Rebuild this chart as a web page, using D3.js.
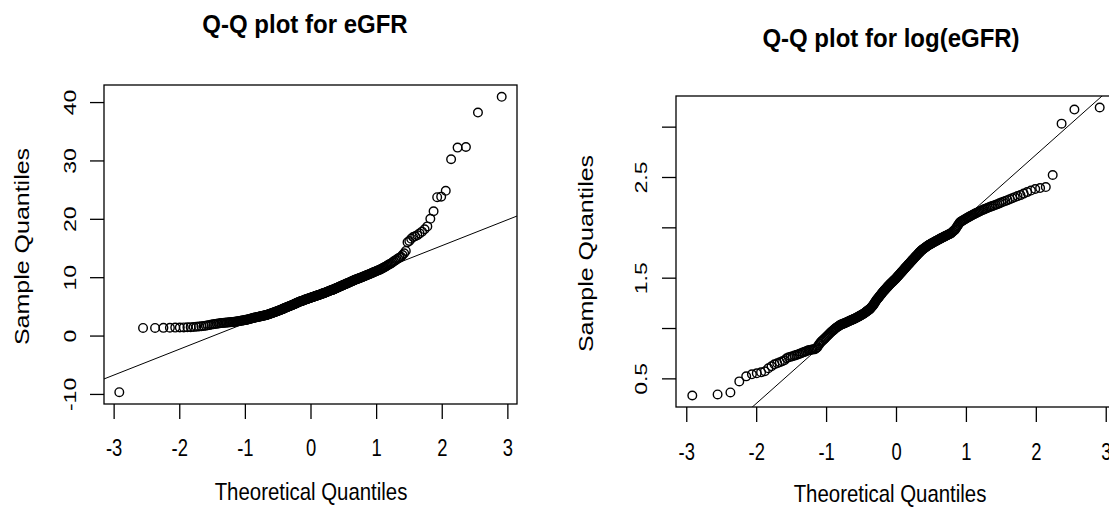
<!DOCTYPE html>
<meta charset="utf-8">
<style>

    body {
        margin: 0;
        background: #fff;
    }

    text {
        font-family: "Liberation Sans", Arial, sans-serif;
        fill: #000;
    }

    .title {
        font-size: 25px;
        font-weight: bold;
        text-anchor: middle;
    }

    .tick text {
        font-size: 23px;
    }

    .lab {
        font-size: 24px;
        text-anchor: middle;
    }

    .pt {
        fill: none;
        stroke: #000;
        stroke-width: 1.4px;
    }

</style>

<svg width="1109" height="521"></svg>
<script src="https://d3js.org/d3.v7.min.js"></script>

<script>
    // sorted sample values (280 points each)
    var eGFR = [
        -9.7, 1.3, 1.3, 1.32, 1.34, 1.36, 1.38, 1.4, 1.42, 1.44,
        1.46, 1.5, 1.55, 1.6, 1.65, 1.7, 1.76, 1.82, 1.88, 1.94,
        2.0, 2.04, 2.08, 2.11, 2.15, 2.17, 2.19, 2.21, 2.23, 2.25,
        2.27, 2.29, 2.31, 2.33, 2.35, 2.38, 2.41, 2.44, 2.47, 2.5,
        2.53, 2.56, 2.59, 2.62, 2.65, 2.69, 2.73, 2.77, 2.81, 2.85,
        2.89, 2.93, 2.97, 3.01, 3.05, 3.08, 3.11, 3.14, 3.17, 3.2,
        3.23, 3.26, 3.29, 3.32, 3.35, 3.38, 3.41, 3.44, 3.47, 3.5,
        3.54, 3.58, 3.62, 3.66, 3.7, 3.74, 3.78, 3.82, 3.86, 3.9,
        3.94, 3.99, 4.03, 4.08, 4.12, 4.17, 4.21, 4.26, 4.3, 4.35,
        4.39, 4.44, 4.48, 4.53, 4.57, 4.62, 4.66, 4.71, 4.75, 4.8,
        4.84, 4.89, 4.93, 4.98, 5.02, 5.07, 5.11, 5.16, 5.2, 5.25,
        5.29, 5.34, 5.38, 5.43, 5.47, 5.52, 5.56, 5.61, 5.65, 5.7,
        5.74, 5.78, 5.82, 5.86, 5.9, 5.94, 5.98, 6.02, 6.06, 6.1,
        6.13, 6.17, 6.2, 6.24, 6.27, 6.31, 6.34, 6.38, 6.41, 6.45,
        6.48, 6.52, 6.55, 6.59, 6.62, 6.66, 6.69, 6.73, 6.76, 6.8,
        6.83, 6.87, 6.9, 6.94, 6.97, 7.01, 7.04, 7.08, 7.11, 7.15,
        7.19, 7.23, 7.27, 7.31, 7.35, 7.39, 7.43, 7.47, 7.51, 7.55,
        7.59, 7.63, 7.67, 7.71, 7.75, 7.79, 7.83, 7.87, 7.91, 7.95,
        8.0, 8.05, 8.1, 8.15, 8.2, 8.25, 8.3, 8.35, 8.4, 8.45,
        8.5, 8.55, 8.6, 8.65, 8.7, 8.75, 8.8, 8.85, 8.9, 8.95,
        9.0, 9.06, 9.11, 9.17, 9.22, 9.28, 9.33, 9.39, 9.44, 9.5,
        9.55, 9.6, 9.65, 9.7, 9.75, 9.8, 9.85, 9.9, 9.95, 10.0,
        10.06, 10.12, 10.18, 10.24, 10.3, 10.36, 10.42, 10.48, 10.54, 10.6,
        10.67, 10.74, 10.81, 10.88, 10.95, 11.02, 11.09, 11.16, 11.23, 11.3,
        11.4, 11.5, 11.6, 11.7, 11.8, 11.92, 12.04, 12.16, 12.28, 12.4,
        12.56, 12.72, 12.88, 13.04, 13.2, 13.35, 13.5, 13.8, 14.1, 14.5,
        16.0, 16.2, 16.6, 16.9, 17.0, 17.2, 17.5, 17.8, 18.2, 18.7,
        20.0, 21.3, 23.7, 23.8, 24.8, 30.2, 32.2, 32.3, 38.2, 40.9
    ];

    var logEGFR = [
        0.33, 0.34, 0.36, 0.47, 0.52, 0.54, 0.55, 0.56, 0.57, 0.6,
        0.62, 0.64, 0.65, 0.66, 0.67, 0.68, 0.7, 0.71, 0.715, 0.72,
        0.726, 0.732, 0.738, 0.744, 0.75, 0.756, 0.762, 0.768, 0.774, 0.78,
        0.782, 0.784, 0.786, 0.788, 0.79, 0.8, 0.81, 0.83, 0.845, 0.86,
        0.87, 0.88, 0.89, 0.9, 0.91, 0.92, 0.93, 0.94, 0.95, 0.96,
        0.968, 0.976, 0.984, 0.992, 1.0, 1.006, 1.012, 1.018, 1.024, 1.03,
        1.034, 1.037, 1.041, 1.044, 1.048, 1.051, 1.055, 1.058, 1.062, 1.065,
        1.069, 1.072, 1.076, 1.079, 1.083, 1.086, 1.09, 1.093, 1.097, 1.1,
        1.104, 1.108, 1.112, 1.116, 1.12, 1.124, 1.128, 1.132, 1.136, 1.14,
        1.145, 1.15, 1.155, 1.16, 1.165, 1.17, 1.175, 1.18, 1.185, 1.19,
        1.198, 1.206, 1.214, 1.222, 1.23, 1.24, 1.25, 1.26, 1.27, 1.28,
        1.288, 1.296, 1.304, 1.312, 1.32, 1.328, 1.336, 1.344, 1.352, 1.36,
        1.367, 1.374, 1.381, 1.388, 1.395, 1.402, 1.409, 1.416, 1.423, 1.43,
        1.436, 1.442, 1.448, 1.454, 1.46, 1.466, 1.472, 1.478, 1.484, 1.49,
        1.497, 1.504, 1.511, 1.518, 1.525, 1.532, 1.539, 1.546, 1.553, 1.56,
        1.567, 1.574, 1.581, 1.588, 1.595, 1.602, 1.609, 1.616, 1.623, 1.63,
        1.637, 1.644, 1.651, 1.658, 1.665, 1.672, 1.679, 1.686, 1.693, 1.7,
        1.707, 1.714, 1.721, 1.728, 1.735, 1.742, 1.749, 1.756, 1.763, 1.77,
        1.775, 1.78, 1.785, 1.79, 1.795, 1.8, 1.805, 1.81, 1.815, 1.82,
        1.824, 1.828, 1.832, 1.836, 1.84, 1.844, 1.848, 1.852, 1.856, 1.86,
        1.864, 1.868, 1.872, 1.876, 1.88, 1.884, 1.888, 1.892, 1.896, 1.9,
        1.904, 1.908, 1.912, 1.916, 1.92, 1.924, 1.928, 1.932, 1.936, 1.94,
        1.948, 1.956, 1.964, 1.972, 1.98, 1.994, 2.008, 2.022, 2.036, 2.05,
        2.056, 2.062, 2.068, 2.074, 2.08, 2.086, 2.092, 2.098, 2.104, 2.11,
        2.116, 2.122, 2.128, 2.134, 2.14, 2.146, 2.152, 2.158, 2.164, 2.17,
        2.176, 2.182, 2.188, 2.194, 2.2, 2.206, 2.212, 2.218, 2.224, 2.23,
        2.238, 2.246, 2.254, 2.262, 2.27, 2.28, 2.29, 2.3, 2.31, 2.32,
        2.335, 2.35, 2.365, 2.38, 2.39, 2.4, 2.52, 3.03, 3.17, 3.19
    ];

    var xTicks = [-3, -2, -1, 0, 1, 2, 3];
    var eGFRTicks = [-10, 0, 10, 20, 30, 40];
    var logTicks = [0.5, 1, 1.5, 2, 2.5, 3];
    var logTickLabels = [0.5, 1.5, 2.5];

    // inverse normal cdf (Acklam), used for the theoretical quantiles like qqnorm
    function qnorm(p) {
        var a = [-3.969683028665376e+01, 2.209460984245205e+02, -2.759285104469687e+02,
                 1.383577518672690e+02, -3.066479806614716e+01, 2.506628277459239e+00];
        var b = [-5.447609879822406e+01, 1.615858368580409e+02, -1.556989798598866e+02,
                 6.680131188771972e+01, -1.328068155288572e+01];
        var c = [-7.784894002430293e-03, -3.223964580411365e-01, -2.400758277161838e+00,
                 -2.549732539343734e+00, 4.374664141464968e+00, 2.938163982698783e+00];
        var d = [7.784695709041462e-03, 3.224671290700398e-01, 2.445134137142996e+00,
                 3.754408661907416e+00];
        var pl = 0.02425, q, r;
        if (p < pl) {
            q = Math.sqrt(-2 * Math.log(p));
            return (((((c[0]*q+c[1])*q+c[2])*q+c[3])*q+c[4])*q+c[5]) /
                   ((((d[0]*q+d[1])*q+d[2])*q+d[3])*q+1);
        }
        if (p > 1 - pl) {
            q = Math.sqrt(-2 * Math.log(1 - p));
            return -(((((c[0]*q+c[1])*q+c[2])*q+c[3])*q+c[4])*q+c[5]) /
                    ((((d[0]*q+d[1])*q+d[2])*q+d[3])*q+1);
        }
        q = p - 0.5;
        r = q * q;
        return (((((a[0]*r+a[1])*r+a[2])*r+a[3])*r+a[4])*r+a[5])*q /
               (((((b[0]*r+b[1])*r+b[2])*r+b[3])*r+b[4])*r+1);
    }

    var svg = d3.select("svg");

    function qqPanel(o) {
        var n = o.values.length;
        var sample = o.values.slice().sort(d3.ascending);
        var theo = d3.range(n).map(function(i) { return qnorm((i + 0.5) / n); });

        // R style axis range: data extent plus 4% each side
        var xr = d3.extent(theo), yr = d3.extent(sample);
        var xp = (xr[1] - xr[0]) * 0.04, yp = (yr[1] - yr[0]) * 0.04;
        var x = d3.scaleLinear().domain([xr[0] - xp, xr[1] + xp]).range([o.left, o.right]);
        var y = d3.scaleLinear().domain([yr[0] - yp, yr[1] + yp]).range([o.bottom, o.top]);

        var g = svg.append("g");

        // qqline through the quartiles
        var q1 = d3.quantile(sample, 0.25), q3 = d3.quantile(sample, 0.75);
        var slope = (q3 - q1) / (qnorm(0.75) - qnorm(0.25));
        var icpt = q1 - slope * qnorm(0.25);
        var xd = x.domain();

        g.append("clipPath")
                .attr("id", o.id + "-clip")
                .append("rect")
                .attr("x", o.left).attr("y", o.top)
                .attr("width", o.right - o.left).attr("height", o.bottom - o.top);

        g.append("line")
                .attr("clip-path", "url(#" + o.id + "-clip)")
                .attr("x1", x(xd[0])).attr("y1", y(icpt + slope * xd[0]))
                .attr("x2", x(xd[1])).attr("y2", y(icpt + slope * xd[1]))
                .attr("stroke", "#000")
                .attr("stroke-width", 1);

        g.append("g")
                .selectAll("circle")
                .data(theo)
                .enter().append("circle")
                .attr("class", "pt")
                .attr("cx", function(d) { return x(d); })
                .attr("cy", function(d, i) { return y(sample[i]); })
                .attr("r", 4.3);

        g.append("rect")
                .attr("x", o.left).attr("y", o.top)
                .attr("width", o.right - o.left).attr("height", o.bottom - o.top)
                .attr("fill", "none")
                .attr("stroke", "#000")
                .attr("stroke-width", 1.3);

        var xAxis = g.append("g")
                .attr("transform", "translate(0," + o.bottom + ")")
                .call(d3.axisBottom(x).tickValues(xTicks).tickSize(15)
                        .tickFormat(function(d) { return String(d); }));
        xAxis.select(".domain").remove();
        xAxis.selectAll(".tick line").attr("stroke", "#000").attr("stroke-width", 1.3);
        xAxis.selectAll(".tick text")
                .attr("y", null).attr("dy", null)
                .attr("transform", "translate(0," + o.xTickY + ") scale(0.8,1)");

        var yAxis = g.append("g")
                .attr("transform", "translate(" + o.left + ",0)")
                .call(d3.axisLeft(y).tickValues(o.yTicks).tickSize(14)
                        .tickFormat(function(d) {
                            return o.yLabels.indexOf(d) >= 0 ? String(d) : "";
                        }));
        yAxis.select(".domain").remove();
        yAxis.selectAll(".tick line").attr("stroke", "#000").attr("stroke-width", 1.3);
        yAxis.selectAll(".tick text")
                .attr("x", null).attr("dy", null)
                .attr("text-anchor", "middle")
                .attr("transform", "translate(" + o.yTickX + ",0) scale(0.75,1) rotate(-90)");

        g.append("text")
                .attr("class", "title")
                .attr("transform", "translate(" + o.titleX + "," + o.titleY + ") scale(0.96,1)")
                .text(o.title);

        g.append("text")
                .attr("class", "lab")
                .attr("transform", "translate(" + o.xLabX + "," + o.xLabY + ") scale(0.85,1)")
                .text("Theoretical Quantiles");

        g.append("text")
                .attr("class", "lab")
                .style("font-size", "25px")
                .attr("transform", "translate(" + o.yLabX + "," + ((o.top + o.bottom) / 2 + 2) +
                        ") scale(0.78,1) rotate(-90)")
                .text("Sample Quantiles");
    }

    qqPanel({
        id: "left", values: eGFR, title: "Q-Q plot for eGFR",
        left: 104, right: 517, top: 85, bottom: 404,
        yTicks: eGFRTicks, yLabels: eGFRTicks,
        xTickY: 52, yTickX: -28,
        titleX: 305, titleY: 33, xLabX: 311, xLabY: 500, yLabX: 29
    });

    qqPanel({
        id: "right", values: logEGFR, title: "Q-Q plot for log(eGFR)",
        left: 676, right: 1116, top: 96, bottom: 407,
        yTicks: logTicks, yLabels: logTickLabels,
        xTickY: 53, yTickX: -29,
        titleX: 891, titleY: 47, xLabX: 890, xLabY: 502, yLabX: 593
    });

</script>
